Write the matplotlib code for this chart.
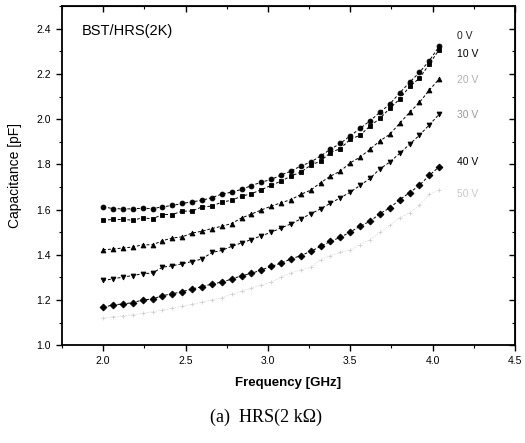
import numpy as np
import matplotlib.pyplot as plt
from matplotlib.ticker import MultipleLocator, FormatStrFormatter, NullFormatter

# frequency points (GHz), 0.06 GHz step
freq = [2.00, 2.06, 2.12, 2.18, 2.24, 2.30, 2.36, 2.42, 2.48, 2.54, 2.60, 2.66,
        2.72, 2.78, 2.84, 2.90, 2.96, 3.02, 3.08, 3.14, 3.20, 3.26, 3.32, 3.38,
        3.44, 3.50, 3.56, 3.62, 3.68, 3.74, 3.80, 3.86, 3.92, 3.98, 4.04]

cap_0v = [1.612, 1.604, 1.603, 1.603, 1.606, 1.604, 1.612, 1.618, 1.627, 1.634, 1.641, 1.653,
          1.668, 1.677, 1.689, 1.706, 1.721, 1.733, 1.753, 1.770, 1.793, 1.810, 1.837, 1.867,
          1.893, 1.926, 1.959, 1.993, 2.030, 2.067, 2.116, 2.163, 2.207, 2.259, 2.323]
cap_10v = [1.553, 1.556, 1.556, 1.553, 1.563, 1.559, 1.578, 1.578, 1.593, 1.593, 1.612, 1.615,
           1.633, 1.641, 1.659, 1.670, 1.688, 1.707, 1.726, 1.748, 1.766, 1.796, 1.815, 1.852,
           1.870, 1.911, 1.929, 1.970, 2.003, 2.048, 2.089, 2.145, 2.181, 2.244, 2.308]
cap_20v = [1.422, 1.425, 1.430, 1.434, 1.444, 1.444, 1.462, 1.474, 1.479, 1.496, 1.504, 1.516,
           1.526, 1.538, 1.563, 1.580, 1.598, 1.615, 1.630, 1.644, 1.667, 1.686, 1.719, 1.748,
           1.770, 1.807, 1.832, 1.867, 1.904, 1.933, 1.982, 2.030, 2.074, 2.129, 2.178]
cap_30v = [1.286, 1.293, 1.301, 1.308, 1.316, 1.319, 1.345, 1.351, 1.360, 1.370, 1.381, 1.410,
           1.419, 1.437, 1.452, 1.467, 1.484, 1.499, 1.519, 1.536, 1.559, 1.581, 1.603, 1.628,
           1.652, 1.677, 1.707, 1.738, 1.780, 1.810, 1.849, 1.889, 1.929, 1.975, 2.022]
cap_40v = [1.167, 1.178, 1.182, 1.188, 1.200, 1.204, 1.219, 1.227, 1.237, 1.248, 1.259, 1.270,
           1.279, 1.292, 1.307, 1.317, 1.333, 1.348, 1.363, 1.381, 1.396, 1.415, 1.437, 1.459,
           1.477, 1.501, 1.526, 1.548, 1.582, 1.607, 1.644, 1.674, 1.708, 1.751, 1.790]
cap_50v = [1.120, 1.125, 1.130, 1.135, 1.140, 1.148, 1.155, 1.163, 1.172, 1.180, 1.190, 1.200,
           1.210, 1.225, 1.238, 1.252, 1.265, 1.280, 1.300, 1.319, 1.333, 1.344, 1.378, 1.396,
           1.410, 1.422, 1.445, 1.467, 1.499, 1.530, 1.563, 1.585, 1.618, 1.667, 1.686]

bias_labels = ['0 V', '10 V', '20 V', '30 V', '40 V', '50 V']
series = [cap_0v, cap_10v, cap_20v, cap_30v, cap_40v, cap_50v]
markers = ['o', 's', '^', 'v', 'D', '+']
colors = ['black', 'black', 'black', 'black', 'black', '#d0d0d0']
label_colors = ['#222222', 'black', '#b0b0b0', '#999999', 'black', '#c8c8c8']

plt.rcParams['font.family'] = ['Liberation Sans', 'DejaVu Sans']

fig = plt.figure(figsize=(5.25, 4.43), dpi=100)
ax = fig.add_axes([0.118, 0.221, 0.863, 0.765])

for vals, m, c in zip(series, markers, colors):
    ms = 3.5 if m != '+' else 3.5
    lw = 0.7 if m != '+' else 0.4
    ax.plot(freq, vals, linestyle=(0, (3, 2)), linewidth=lw, color=c,
            marker=m, markersize=ms, markeredgewidth=0.6)

# curve labels at right end
label_y = [2.37, 2.29, 2.175, 2.02, 1.81, 1.67]
for txt, y, c in zip(bias_labels, label_y, label_colors):
    ax.text(4.15, y, txt, fontsize=7.5, color=c, va='center', ha='left')

ax.text(1.87, 2.39, 'BST/HRS(2K)', fontsize=10.5, va='center', ha='left')

ax.set_xlim(1.75, 4.5)
ax.set_ylim(1.0, 2.5)
ax.xaxis.set_major_locator(MultipleLocator(0.5))
ax.xaxis.set_minor_locator(MultipleLocator(0.25))
ax.yaxis.set_major_locator(MultipleLocator(0.2))
ax.yaxis.set_minor_locator(MultipleLocator(0.1))
ax.xaxis.set_major_formatter(FormatStrFormatter('%.1f'))
ax.yaxis.set_major_formatter(FormatStrFormatter('%.1f'))

ax.tick_params(axis='both', which='major', length=4.5, width=1.0, labelsize=7.5)
ax.tick_params(axis='both', which='minor', length=2.5, width=0.8)
for side in ['top', 'bottom', 'left', 'right']:
    ax.spines[side].set_linewidth(1.3)

# top and right ticks point inward
top = ax.secondary_xaxis('top')
top.xaxis.set_major_locator(MultipleLocator(0.5))
top.xaxis.set_minor_locator(MultipleLocator(0.25))
top.xaxis.set_major_formatter(NullFormatter())
top.tick_params(which='major', direction='in', length=4.5, width=1.0)
top.tick_params(which='minor', direction='in', length=2.5, width=0.8)
right = ax.secondary_yaxis('right')
right.yaxis.set_major_locator(MultipleLocator(0.2))
right.yaxis.set_minor_locator(MultipleLocator(0.1))
right.yaxis.set_major_formatter(NullFormatter())
right.tick_params(which='major', direction='in', length=4.5, width=1.0)
right.tick_params(which='minor', direction='in', length=2.5, width=0.8)

ax.set_xlabel('Frequency [GHz]', fontsize=9.5, fontweight='bold', labelpad=8)
ax.set_ylabel('Capacitance [pF]', fontsize=10, labelpad=10)

fig.text(0.507, 0.058, '(a)  HRS(2 k\u03a9)', fontsize=13, ha='center', va='center',
         family=['Liberation Serif', 'DejaVu Serif'])

fig.savefig('out.png', dpi=100)
